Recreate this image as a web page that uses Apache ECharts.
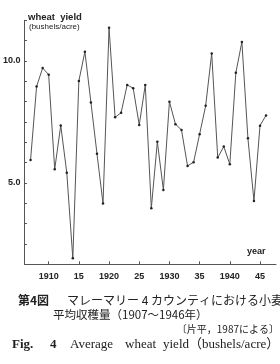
<!DOCTYPE html>
<html><head><meta charset="utf-8">
<script src="https://cdn.jsdelivr.net/npm/echarts@6/dist/echarts.min.js"></script>
<style>html,body{margin:0;padding:0;background:#fff}#c{width:280px;height:364px}</style>
</head><body><div id="c"></div>
<script>
var years = [1907,1908,1909,1910,1911,1912,1913,1914,1915,1916,1917,1918,1919,1920,1921,1922,1923,1924,1925,1926,1927,1928,1929,1930,1931,1932,1933,1934,1935,1936,1937,1938,1939,1940,1941,1942,1943,1944,1945,1946];
var yields = [5.94,8.95,9.71,9.44,5.56,7.36,5.42,1.91,9.18,10.38,8.3,6.2,4.16,11.36,7.69,7.88,9.02,8.88,7.38,9.02,3.96,6.69,4.71,8.33,7.41,7.17,5.70,5.85,7.0,8.16,10.31,6.04,6.49,5.77,9.52,10.78,6.83,4.26,7.35,7.77];
var xTickYears = [1910,1915,1920,1925,1930,1935,1940,1945];
var xTickLabels = ['1910','15','1920','25','1930','35','1940','45'];
var yLabelValues = [5,10];

var chart = echarts.init(document.getElementById('c'), null, {renderer:'canvas'});
var data = years.map(function(y,i){return [y, yields[i]];});
var axisColor = '#555';
var capFont = '"Noto Sans CJK JP", sans-serif';
var serifFont = '"Liberation Serif", "Noto Sans CJK JP", serif';
chart.setOption({
  animation:false,
  backgroundColor:'#fff',
  grid:{left:24, right:4, top:20.3, height:244, containLabel:false},
  xAxis:{
    type:'value', min:1906, max:1947.65,
    axisLine:{show:true, lineStyle:{color:axisColor, width:1}},
    axisTick:{show:true, inside:true, length:3, customValues:xTickYears, lineStyle:{color:axisColor}},
    axisLabel:{show:true, customValues:xTickYears, margin:8, fontSize:9, fontWeight:'bold', color:'#222', fontFamily:'"Liberation Sans", Arial, sans-serif',
      formatter:function(v){var i=xTickYears.indexOf(Math.round(v));return i>=0?xTickLabels[i]:'';}},
    splitLine:{show:false}
  },
  yAxis:{
    type:'value', min:5/3, max:35/3, interval:5/6,
    axisLine:{show:true, lineStyle:{color:axisColor, width:1}},
    axisTick:{show:true, inside:true, length:2.5, lineStyle:{color:axisColor}},
    axisLabel:{show:true, customValues:yLabelValues, margin:4, fontSize:9, fontWeight:'bold', color:'#222', fontFamily:'"Liberation Sans", Arial, sans-serif',
      formatter:function(v){return v.toFixed(1);}},
    splitLine:{show:false}
  },
  series:[{
    type:'line', data:data, symbol:'circle', symbolSize:2.5,
    itemStyle:{color:'#222'}, lineStyle:{color:'#555', width:1}
  }],
  graphic:[
    {type:'text', left:28, top:12, style:{text:'wheat  yield', font:'bold 9.5px "Liberation Sans", Arial, sans-serif', fill:'#222'}},
    {type:'text', left:29, top:22.5, style:{text:'(bushels/acre)', font:'8px "Liberation Sans", Arial, sans-serif', fill:'#222'}},
    {type:'text', left:247, top:247, style:{text:'year', font:'bold 9px "Liberation Sans", Arial, sans-serif', fill:'#222'}},
    {type:'text', left:18, top:294, style:{text:'第4図', font:'bold 12px '+capFont, fill:'#222'}},
    {type:'text', left:67, top:294, style:{text:'マレーマリー 4 カウンティにおける小麦', font:'12px '+capFont, fill:'#222'}},
    {type:'text', left:53, top:309, style:{text:'平均収穫量（1907～1946年）', font:'11.5px '+capFont, fill:'#222'}},
    {type:'text', right:1, top:324, style:{text:'〔片平，1987による〕', font:'10px '+capFont, fill:'#222'}},
    {type:'text', left:12, top:338, style:{text:'Fig.', font:'bold 13px '+serifFont, fill:'#222'}},
    {type:'text', left:50, top:338, style:{text:'4', font:'bold 13px '+serifFont, fill:'#222'}},
    {type:'text', left:70, top:338, style:{text:'Average', font:'13px '+serifFont, fill:'#222'}},
    {type:'text', left:125, top:338, style:{text:'wheat', font:'13px '+serifFont, fill:'#222'}},
    {type:'text', left:163, top:338, style:{text:'yield', font:'13px '+serifFont, fill:'#222'}},
    {type:'text', left:189, top:338, style:{text:'（bushels/acre）', font:'13px '+serifFont, fill:'#222'}}
  ]
});
</script></body></html>
